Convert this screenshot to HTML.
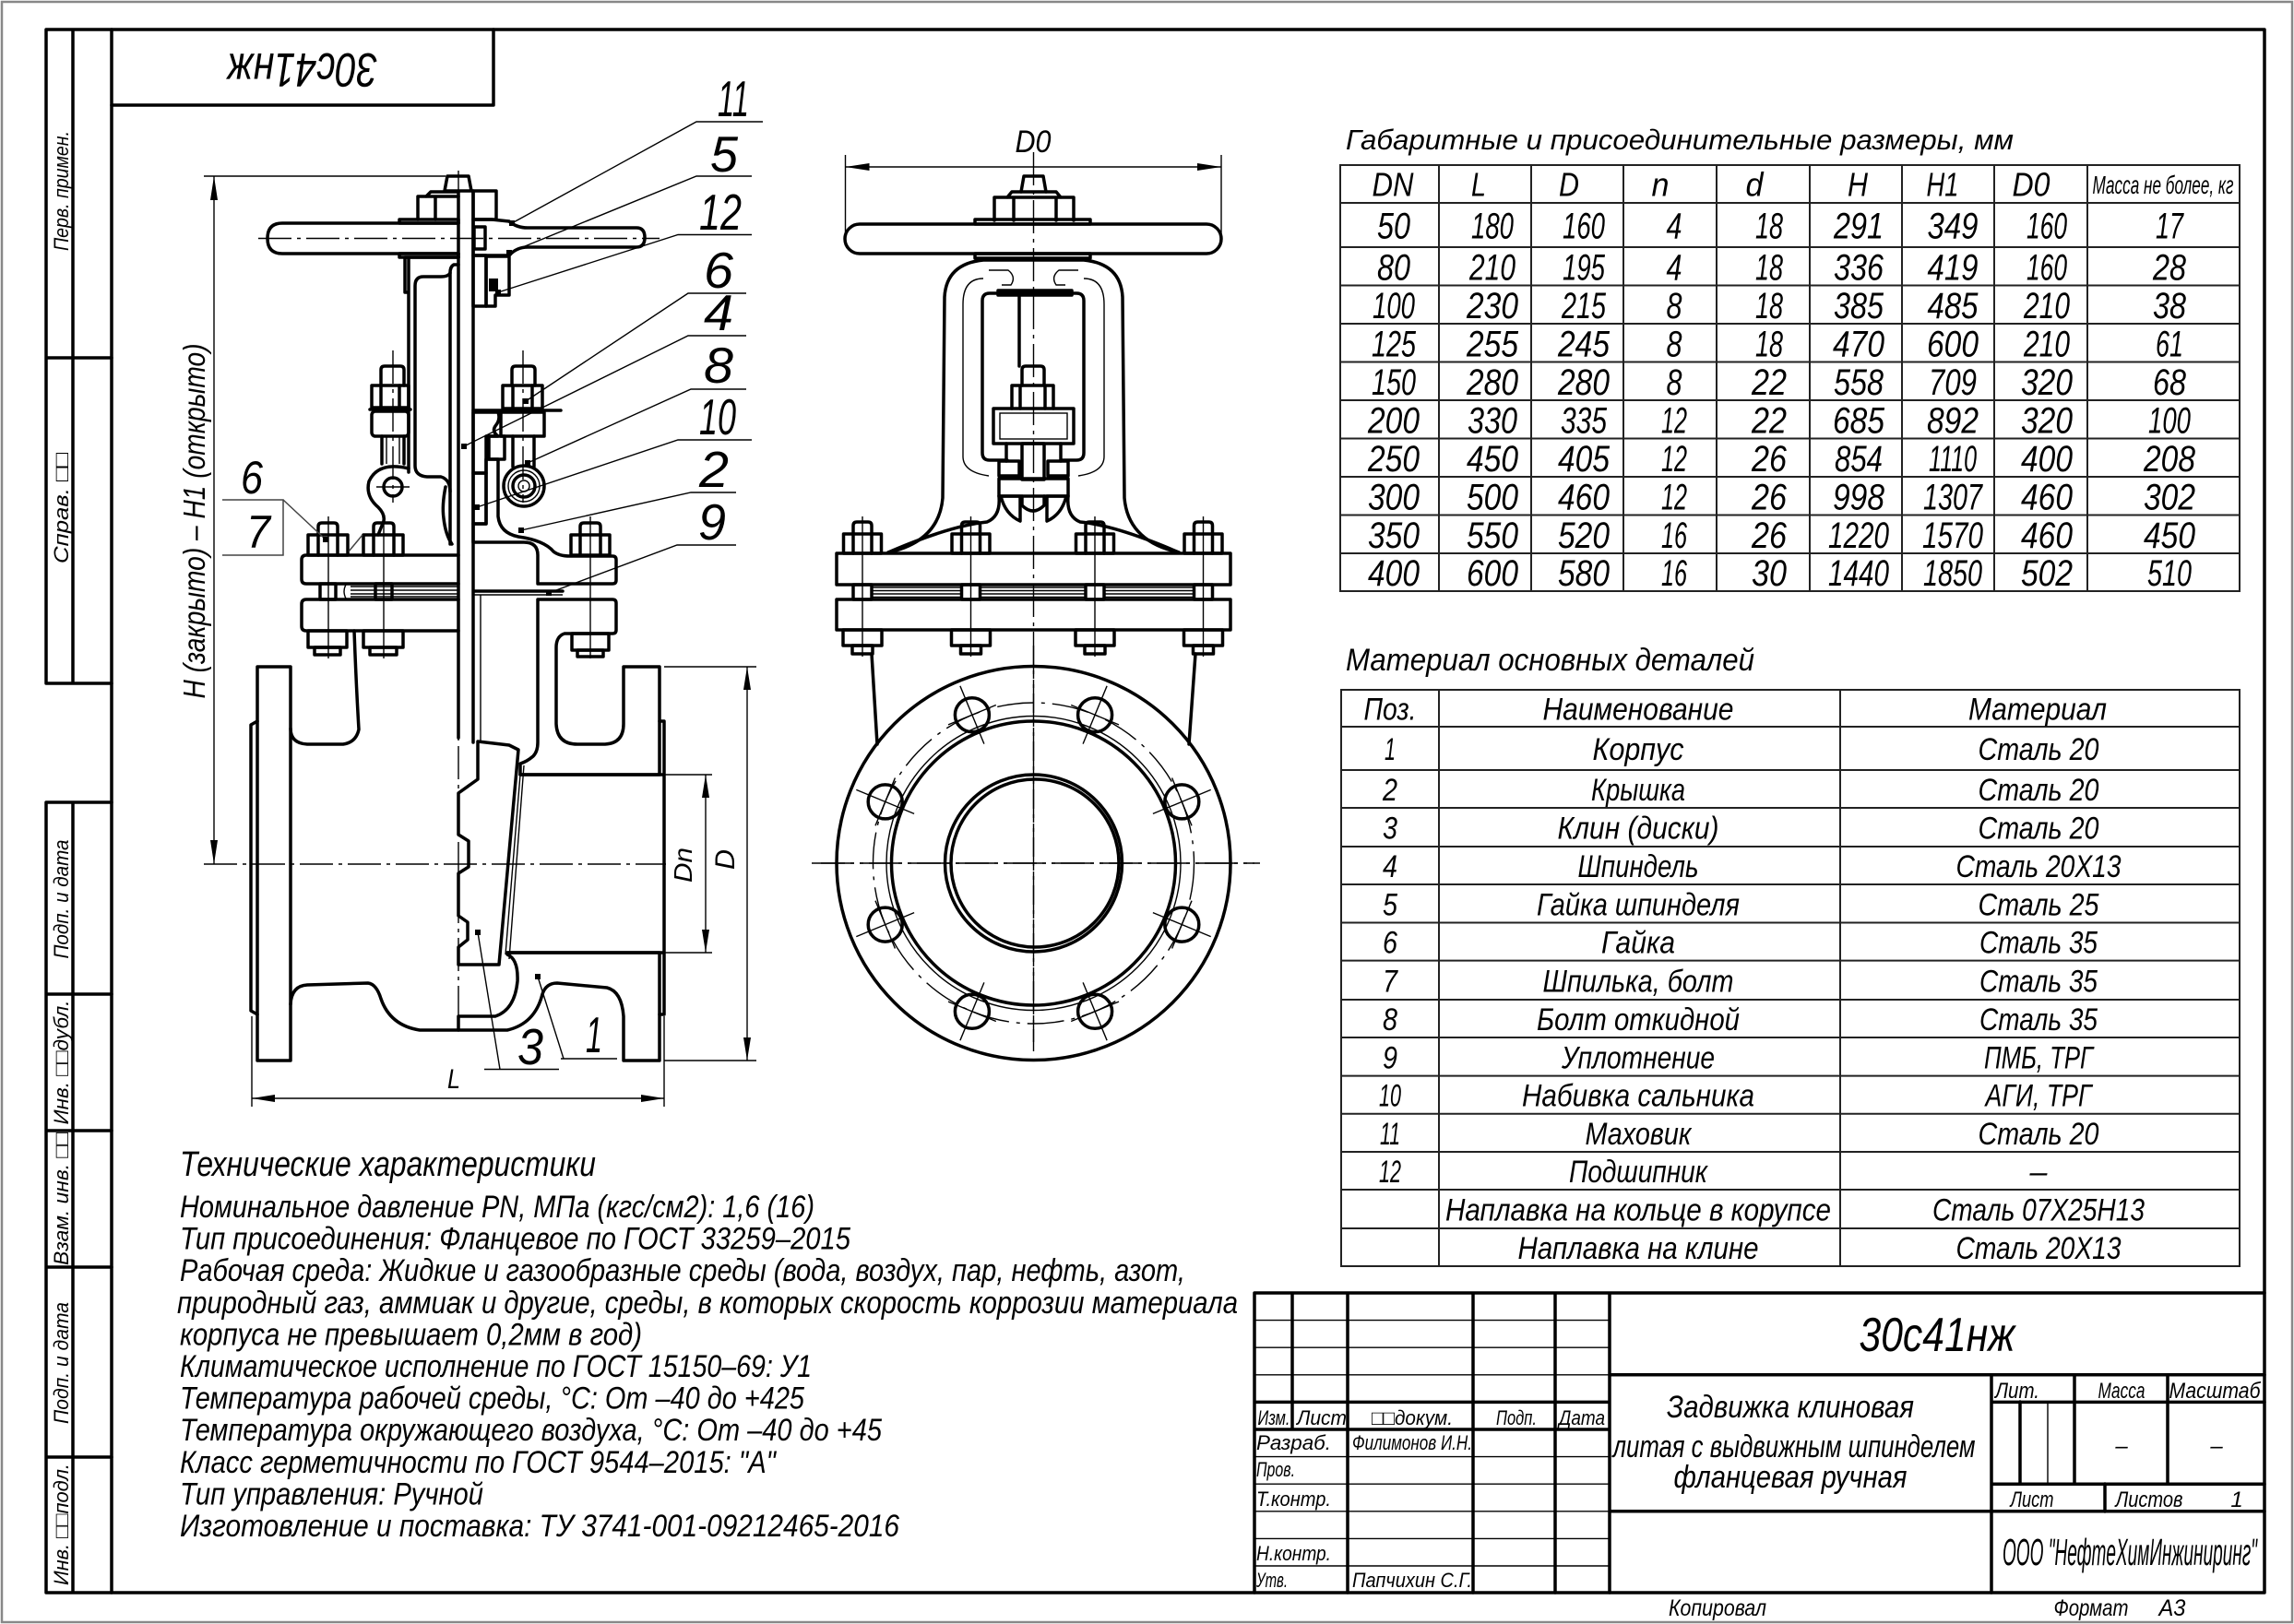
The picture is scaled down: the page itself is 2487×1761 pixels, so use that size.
<!DOCTYPE html>
<html><head><meta charset="utf-8">
<style>
html,body{margin:0;padding:0;background:#fff;width:2487px;height:1761px;overflow:hidden}
svg{display:block}
text{font-family:"Liberation Sans","DejaVu Sans",sans-serif;font-style:italic;fill:#000}
.k{fill:none;stroke:#000;stroke-width:3.5;stroke-linejoin:round;stroke-linecap:round}
.t{fill:none;stroke:#000;stroke-width:1.4}
.c{fill:none;stroke:#000;stroke-width:1.4;stroke-dasharray:36 6 4 6}
.g{fill:none;stroke:#444;stroke-width:1.5}
.tl{fill:none;stroke:#222;stroke-width:2}
</style></head><body>
<svg width="2487" height="1761" viewBox="0 0 2487 1761" xmlns="http://www.w3.org/2000/svg">
<defs>
<pattern id="hs" patternUnits="userSpaceOnUse" width="10" height="10" patternTransform="rotate(45)"><line x1="1" y1="0" x2="1" y2="10" stroke="#000" stroke-width="1.2"/></pattern>
<pattern id="hb" patternUnits="userSpaceOnUse" width="10" height="10" patternTransform="rotate(-45)"><line x1="1" y1="0" x2="1" y2="10" stroke="#000" stroke-width="1.2"/></pattern>
<pattern id="hx" patternUnits="userSpaceOnUse" width="6" height="6" patternTransform="rotate(45)"><path d="M1,0V6M0,1H6" stroke="#000" stroke-width="1"/></pattern>
</defs>

<!-- FRAME -->
<rect x="2" y="2" width="2483" height="1757" fill="none" stroke="#888" stroke-width="2.5"/>
<rect x="121" y="32" width="2334" height="1695" class="k" stroke-width="4"/>
<path class="k" d="M121,32 H50 V741 H121 M79,32 V741 M50,388 H121"/>
<path class="k" d="M121,870 H50 V1727 H121 M79,870 V1727 M50,1078 H121 M50,1226 H121 M50,1374 H121 M50,1580 H121"/>
<path class="k" d="M121,114 H535 V32"/>
<text font-size="52" text-anchor="middle" textLength="163" lengthAdjust="spacingAndGlyphs" transform="translate(328,77) rotate(180)" y="19">30с41нж</text>

<!-- strip labels -->
<g font-size="22" text-anchor="middle">
<text transform="translate(74,207) rotate(-90)" textLength="130" lengthAdjust="spacingAndGlyphs">Перв. примен.</text>
<text transform="translate(74,551) rotate(-90)" textLength="120" lengthAdjust="spacingAndGlyphs">Справ. □□</text>
<text transform="translate(74,975) rotate(-90)" textLength="129" lengthAdjust="spacingAndGlyphs">Подп. и дата</text>
<text transform="translate(74,1152) rotate(-90)" textLength="135" lengthAdjust="spacingAndGlyphs">Инв. □□дубл.</text>
<text transform="translate(74,1300) rotate(-90)" textLength="144" lengthAdjust="spacingAndGlyphs">Взам. инв. □□</text>
<text transform="translate(74,1478) rotate(-90)" textLength="132" lengthAdjust="spacingAndGlyphs">Подп. и дата</text>
<text transform="translate(74,1653) rotate(-90)" textLength="132" lengthAdjust="spacingAndGlyphs">Инв. □□подл.</text>
</g>

<!-- ================= LEFT VIEW ================= -->
<!-- H dimension -->
<path class="t" d="M221,191 H483 M232,191 V937"/>
<path d="M232,191 l-4,26 h8z M232,937 l-4,-26 h8z" fill="#000"/>
<text font-size="33" text-anchor="middle" textLength="385" lengthAdjust="spacingAndGlyphs" transform="translate(222,565) rotate(-90)">H (закрыто) – H1 (открыто)</text>

<!-- centerlines -->
<path class="c" d="M280,258.5 H715"/>
<path class="c" d="M497,185 V1118"/>
<path class="c" d="M221,937 H722"/>

<!-- handwheel left -->
<path class="k" d="M497,242 H306 Q290,242 290,258.5 Q290,275 306,275 H497"/>
<rect class="k" x="433" y="238" width="64" height="4"/>
<rect class="k" x="433" y="275" width="64" height="4"/>
<path class="k" d="M453,238 V213 H497 M472,213 V238 M462,213 L467,208 H497"/>
<path class="k" d="M482,207 L485,191 H508 L511,207 Z"/>
<path class="k" d="M497,207 V800 M513,207 V805"/>
<path class="t" d="M521,645 V805"/>

<!-- wheel section right -->
<path fill="url(#hs)" class="k" d="M513,207 H538 V238 H513 Z"/>
<path fill="url(#hs)" class="k" d="M513,238 H533 L552,240 Q560,247 572,247 H690 Q699,247 699,257.5 Q699,268 690,268 H572 Q560,268 552,277 H533 L513,277 Z"/>
<rect class="k" x="514" y="246" width="12" height="24" fill="#fff"/>
<path fill="url(#hb)" class="k" d="M513,277 H527 V332 H513 Z"/>
<path fill="url(#hb)" class="k" d="M527,278 H552 V320 H537 V332 H527 Z"/>
<rect x="530" y="302" width="10" height="14" fill="#000"/>

<!-- yoke left -->
<path class="k" d="M497,279 H439 V317 H443 M443,279 V512"/>
<path class="k" d="M497,287 H492 Q488,289 488,296 V590"/>
<path class="k" d="M488,296 Q486,300 478,300 H459 Q450,300 450,310 V505 Q450,516 463,517 H478 Q488,520 488,533"/>

<!-- gland bolt left -->
<path class="c" d="M426,380 V545"/>
<path class="k" d="M413,418 V401 Q413,397 417,397 H434 Q438,397 438,401 V418"/>
<rect class="k" x="403" y="418" width="40" height="24"/>
<path class="k" d="M413,418 V442 M433,418 V442 M401,444 H445"/>
<rect class="k" x="403" y="446" width="40" height="27" rx="4"/>
<path class="k" d="M414,473 V503 M438,473 V503"/>
<path class="t" d="M419,473 V503 M433,473 V503"/>
<!-- ear -->
<path class="k" d="M443,508 Q410,500 400,522 Q396,538 410,550 Q420,560 414,570 L410,580"/>
<circle class="k" cx="426" cy="528" r="10"/>
<path class="t" d="M408,528 H444"/>
<path class="k" d="M483,528 Q479,548 481,562 Q483,580 490,590"/>

<!-- eye bolt right -->
<path class="c" d="M567,380 V545"/>
<path class="k" d="M555,418 V401 Q555,397 559,397 H576 Q580,397 580,401 V418"/>
<rect class="k" x="545" y="418" width="43" height="25"/>
<path class="k" d="M556,418 V443 M577,418 V443 M513,445 H608"/>
<rect class="k" x="543" y="447" width="47" height="26"/>
<path class="k" d="M556,473 V506 M579,473 V506"/>
<circle class="k" cx="568" cy="527" r="22" fill="#fff"/>
<circle class="t" cx="568" cy="527" r="17"/>
<circle class="k" cx="568" cy="527" r="12"/>
<circle class="t" cx="568" cy="527" r="6"/>

<!-- gland/packing/bonnet section -->
<path fill="url(#hb)" class="k" d="M513,447 H540 Q543,455 537,462 Q533,468 540,473 H527 V513 H513 Z"/>
<rect class="k" x="530" y="473" width="17" height="25"/>
<rect fill="url(#hx)" class="k" x="513" y="513" width="14" height="55"/>
<path fill="url(#hs)" class="k" d="M527,498 H540 V560 Q542,578 562,582 Q590,586 600,598 Q606,603 618,603 H664 Q668,603 668,607 V629 Q668,633 664,633 H583 V602 Q583,588 568,588 H513 V568 H527 Z"/>

<!-- flanges left (view) -->
<path class="k" d="M497,602 H332 Q327,602 327,607 V628 Q327,633 332,633 H497"/>
<path class="k" d="M497,650 H332 Q327,650 327,655 V679 Q327,684 332,684 H497"/>
<path class="t" d="M380,636 H497 M380,640 H497 M380,644 H497 M380,647 H497 M375,634 Q371,641 375,649"/>
<path class="k" d="M514,641 H610"/>
<path class="t" d="M514,645 H610"/>
<rect class="k" x="347" y="633" width="17" height="17"/>
<rect class="k" x="407" y="633" width="18" height="17"/>
<!-- nuts -->
<g class="k">
<path d="M345,580 V571 Q345,567 349,567 H362 Q366,567 366,571 V580"/><rect x="334" y="580" width="43" height="22"/><path d="M345,580 V602 M366,580 V602"/>
<path d="M405,580 V571 Q405,567 409,567 H423 Q427,567 427,571 V580"/><rect x="394" y="580" width="43" height="22"/><path d="M405,580 V602 M427,580 V602"/>
<path d="M629,580 V571 Q629,567 633,567 H647 Q651,567 651,571 V580"/><rect x="619" y="580" width="42" height="22"/><path d="M629,580 V602 M651,580 V602"/>
<rect x="334" y="684" width="42" height="18"/><rect x="341" y="702" width="28" height="8"/>
<rect x="394" y="684" width="43" height="18"/><rect x="401" y="702" width="29" height="8"/>
<rect x="620" y="687" width="40" height="18"/><rect x="626" y="705" width="28" height="7"/>
</g>
<path class="t" d="M356,560 V714 M416,560 V714 M640,560 V714"/>

<!-- body left view -->
<path class="k" d="M384,684 Q386,740 389,791 Q386,805 372,807 H333 Q315,806 315,790"/>
<rect class="k" x="279" y="723" width="36" height="427"/>
<path class="k" d="M279,782 L272,786 V1096 L279,1100"/>
<path class="k" d="M315,1089 Q316,1069 333,1068 L399,1066 Q408,1067 413,1083 Q423,1112 455,1117 L497,1117"/>

<!-- body section right -->
<path fill="url(#hb)" class="k" d="M583,650 H664 Q668,650 668,654 V683 Q668,687 664,687 H612 Q603,690 603,702 V785 Q604,807 626,807 H656 Q676,806 676,785 V723 H715 V840 H564 V828 Q571,826 578,820 Q583,815 583,805 Z"/>
<path fill="url(#hb)" class="k" d="M550,1033 H715 V1150 H676 V1102 Q674,1075 658,1071 L604,1066 Q592,1066 588,1078 Q580,1110 550,1117 H497 V1102 H537 Q558,1095 561,1064 Q562,1040 550,1035 Z"/>
<path class="k" d="M715,782 H720 V1100 H715 M564,840 H720 M550,1033 H720"/>
<!-- wedge -->
<path fill="url(#hs)" class="k" d="M518,804 L552,808 L562,813 L541,1046 H497 V1027 L507,1019 V1000 L497,993 V947 L508,940 V912 L497,905 V860 L518,845 Z"/>
<path class="t" d="M564,840 L548,1035 M568,830 L552,1040"/>

<!-- dimensions left -->
<path class="t" d="M720,840 H772 M720,1033 H772 M765,840 V1033 M720,723 H820 M720,1150 H820 M810,723 V1150"/>
<path fill="#000" d="M765,840 l-4,25 h8z M765,1033 l-4,-25 h8z M810,723 l-4,25 h8z M810,1150 l-4,-25 h8z"/>
<text font-size="28" text-anchor="middle" textLength="38" lengthAdjust="spacingAndGlyphs" transform="translate(750,938) rotate(-90)">Dn</text>
<text font-size="30" text-anchor="middle" textLength="22" lengthAdjust="spacingAndGlyphs" transform="translate(796,932) rotate(-90)">D</text>
<path class="t" d="M273,1102 V1200 M720,1102 V1200 M273,1191 H720"/>
<path fill="#000" d="M273,1191 l25,-4 v8z M720,1191 l-25,-4 v8z"/>
<text x="492" y="1180" font-size="30" text-anchor="middle" textLength="14" lengthAdjust="spacingAndGlyphs">L</text>

<!-- leaders & labels -->
<path class="t" d="M827,132 H755 L555,242 M815,191 H755 L552,274 M815,254.5 H735 L540,317 M809,318 H746 L570,435 M809,364 H746 L503,484 M809,422 H749 L572,502 M815,477 H735 L517,550 M798,534 H749 L565,575 M798,591 H734 L595,643"/>
<path class="t" d="M525,1159.5 H606 M542,1159.5 L518,1011 M608,1148 H669 M611,1148 L583,1059"/>
<path class="g" d="M241,542 H307 V602 H241 M307,542 L353,585 M378,598 L393,580"/>
<g fill="#000">
<rect x="552" y="239" width="6" height="6"/><rect x="549" y="271" width="6" height="6"/><rect x="537" y="314" width="6" height="6"/>
<rect x="567" y="432" width="6" height="6"/><rect x="500" y="481" width="6" height="6"/><rect x="569" y="499" width="6" height="6"/>
<rect x="514" y="547" width="6" height="6"/><rect x="562" y="572" width="6" height="6"/><rect x="592" y="640" width="6" height="6"/>
<rect x="515" y="1008" width="6" height="6"/><rect x="580" y="1056" width="6" height="6"/><rect x="350" y="582" width="6" height="6"/>
</g>
<g font-size="55" text-anchor="middle">
<text x="795" y="126" textLength="34" lengthAdjust="spacingAndGlyphs">11</text>
<text x="785" y="186" textLength="30" lengthAdjust="spacingAndGlyphs">5</text>
<text x="781" y="249" textLength="46" lengthAdjust="spacingAndGlyphs">12</text>
<text x="779" y="312" textLength="32" lengthAdjust="spacingAndGlyphs">6</text>
<text x="779" y="358" textLength="32" lengthAdjust="spacingAndGlyphs">4</text>
<text x="779" y="415" textLength="32" lengthAdjust="spacingAndGlyphs">8</text>
<text x="778" y="471" textLength="40" lengthAdjust="spacingAndGlyphs">10</text>
<text x="774" y="528" textLength="32" lengthAdjust="spacingAndGlyphs">2</text>
<text x="772" y="585" textLength="30" lengthAdjust="spacingAndGlyphs">9</text>
<text x="575" y="1154" textLength="28" lengthAdjust="spacingAndGlyphs">3</text>
<text x="644" y="1141" textLength="18" lengthAdjust="spacingAndGlyphs">1</text>
</g>
<g font-size="50" text-anchor="middle">
<text x="273" y="535" textLength="24" lengthAdjust="spacingAndGlyphs">6</text>
<text x="280" y="594" textLength="26" lengthAdjust="spacingAndGlyphs">7</text>
</g>

<!-- ================= MIDDLE VIEW ================= -->
<path class="c" d="M1120.5,165 V1130 M880,936 H1366"/>
<path class="t" d="M916.5,168 V263 M1324,168 V263 M916.5,181 H1324"/>
<path fill="#000" d="M916.5,181 l26,-4 v8z M1324,181 l-26,-4 v8z"/>
<text x="1120" y="165" font-size="34" text-anchor="middle" textLength="39" lengthAdjust="spacingAndGlyphs">D0</text>
<path class="k" d="M1107,208 L1110,191 H1131 L1134,208"/>
<path class="k" d="M1078,239 V214 H1164 V239 M1099,214 V239 M1145,214 V239 M1092,214 L1097,208 H1145 L1150,214"/>
<rect class="k" x="1057" y="238" width="125" height="5"/>
<rect class="k" x="916" y="243" width="408" height="32" rx="16"/>
<rect class="k" x="1057" y="275" width="125" height="5"/>
<path class="k" d="M963,599 Q1018,587 1022,540 L1024,322 Q1026,286 1066,282 H1175 Q1215,286 1217,322 L1219,540 Q1223,587 1278,599"/>
<path class="t" d="M1066,302 Q1044,302 1044,330 V495 Q1044,512 1072,516 M1175,302 Q1197,302 1197,330 V495 Q1197,512 1169,516"/>
<path class="t" d="M1072,293 H1093 Q1102,300 1096,309 H1086 M1169,293 H1148 Q1139,300 1145,309 H1155"/>
<path class="k" d="M1092,499 H1073 Q1065,499 1065,491 V326 Q1065,318 1073,318 H1167 Q1175,318 1175,326 V491 Q1175,499 1167,499 H1150"/>
<rect class="k" x="1082" y="315" width="80" height="5"/>
<path class="k" d="M1105,320 V397"/>
<path class="k" d="M1108,418 V401 Q1108,397 1112,397 H1128 Q1132,397 1132,401 V418"/>
<path class="k" d="M1097,443 V418 H1142 V443 M1106,418 V443 M1133,418 V443"/>
<rect class="k" x="1077" y="443" width="87" height="38"/>
<rect class="t" x="1084" y="448" width="73" height="28"/>
<rect fill="url(#hb)" class="k" x="1108" y="481" width="24" height="39"/>
<rect fill="url(#hs)" class="k" x="1083" y="500" width="22" height="16"/>
<rect fill="url(#hs)" class="k" x="1136" y="500" width="22" height="16"/>
<path class="k" d="M1091,481 V500 M1150,481 V500"/>
<rect class="k" x="1083" y="519" width="75" height="19" fill="#fff"/>
<path class="k" d="M1083,538 Q1085,560 1070,566 Q1030,570 963,599 M1158,538 Q1156,560 1171,566 Q1211,570 1278,599"/>
<path fill="url(#hs)" class="k" d="M1085,538 Q1090,558 1106,565 L1106,538 Z M1156,538 Q1151,558 1135,565 L1135,538 Z"/>
<path class="k" d="M1108,538 V548 Q1120,560 1132,548 V538"/>
<rect class="k" x="907" y="600" width="427" height="34"/>
<rect class="k" x="907" y="650" width="427" height="33"/>
<path class="t" d="M946,637 H1042 M946,640.5 H1042 M946,644 H1042 M946,647.5 H1042 M1063,637 H1176 M1063,640.5 H1176 M1063,644 H1176 M1063,647.5 H1176 M1198,637 H1294 M1198,640.5 H1294 M1198,644 H1294 M1198,647.5 H1294"/>
<g class="k">
<rect x="925" y="634" width="20" height="16"/><rect x="1042.5" y="634" width="20" height="16"/><rect x="1177" y="634" width="20" height="16"/><rect x="1294.5" y="634" width="20" height="16"/>
<path d="M925,579 V570 Q925,566 929,566 H941 Q945,566 945,570 V579"/><rect x="914.5" y="579" width="41" height="21"/><path d="M925,579 V600 M945,579 V600"/>
<path d="M1042.5,579 V570 Q1042.5,566 1046.5,566 H1058.5 Q1062.5,566 1062.5,570 V579"/><rect x="1032" y="579" width="41" height="21"/><path d="M1042.5,579 V600 M1062.5,579 V600"/>
<path d="M1177,579 V570 Q1177,566 1181,566 H1193 Q1197,566 1197,570 V579"/><rect x="1166.5" y="579" width="41" height="21"/><path d="M1177,579 V600 M1197,579 V600"/>
<path d="M1294.5,579 V570 Q1294.5,566 1298.5,566 H1310.5 Q1314.5,566 1314.5,570 V579"/><rect x="1284" y="579" width="41" height="21"/><path d="M1294.5,579 V600 M1314.5,579 V600"/>
<rect x="914" y="683" width="42" height="17"/><rect x="924" y="700" width="22" height="9"/>
<rect x="1031.5" y="683" width="42" height="17"/><rect x="1041.5" y="700" width="22" height="9"/>
<rect x="1166" y="683" width="42" height="17"/><rect x="1176" y="700" width="22" height="9"/>
<rect x="1283.5" y="683" width="42" height="17"/><rect x="1293.5" y="700" width="22" height="9"/>
</g>
<path class="t" d="M935,560 V712 M1052.5,560 V712 M1187,560 V712 M1304.5,560 V712"/>
<path class="k" d="M945,709 L951,807 M1296,709 L1289,807"/>
<circle class="k" cx="1120.5" cy="936" r="213.5" fill="#fff"/>
<circle cx="1120.5" cy="936" r="174" fill="none" stroke="#000" stroke-width="1.4" stroke-dasharray="40 8 4 8"/>
<circle class="t" cx="1120.5" cy="936" r="159.5"/>
<circle class="k" cx="1120.5" cy="936" r="154"/>
<circle class="k" cx="1120.5" cy="936" r="96"/>
<circle class="k" cx="1122" cy="936" r="91"/>
<path class="c" d="M1120.5,700 V1140 M890,936 H1360"/>
<g class="k">
<circle cx="1053.9" cy="775.2" r="18.5"/><circle cx="1187.1" cy="775.2" r="18.5"/>
<circle cx="959.7" cy="869.4" r="18.5"/><circle cx="1281.3" cy="869.4" r="18.5"/>
<circle cx="959.7" cy="1002.6" r="18.5"/><circle cx="1281.3" cy="1002.6" r="18.5"/>
<circle cx="1053.9" cy="1096.8" r="18.5"/><circle cx="1187.1" cy="1096.8" r="18.5"/>
</g>
<path class="t" d="M1040.9,743.8 L1066.9,806.6 M1079.8,764.5 L1028,785.9 M1200.1,743.8 L1174.1,806.6 M1213,785.9 L1161.2,764.5 M928.3,856.4 L991.1,882.4 M970.4,843.5 L949,895.3 M1312.7,856.4 L1249.9,882.4 M1292,895.3 L1270.6,843.5 M928.3,1015.6 L991.1,989.6 M949,976.7 L970.4,1028.5 M1312.7,1015.6 L1249.9,989.6 M1270.6,1028.5 L1292,976.7 M1040.9,1128.2 L1066.9,1065.4 M1028,1086.1 L1079.8,1107.5 M1200.1,1128.2 L1174.1,1065.4 M1161.2,1107.5 L1213,1086.1"/>

<!-- ================= TABLE 1 ================= -->
<text x="1459" y="162" font-size="31" textLength="724" lengthAdjust="spacingAndGlyphs">Габаритные и присоединительные размеры, мм</text>
<path class="tl" d="M1453,179 H2428 V641 H1453 Z M1560,179 V641 M1660,179 V641 M1760,179 V641 M1861,179 V641 M1962,179 V641 M2062,179 V641 M2162,179 V641 M2263,179 V641 M1453,220 H2428 M1453,268 H2428 M1453,309.5 H2428 M1453,351 H2428 M1453,392.5 H2428 M1453,434 H2428 M1453,475.5 H2428 M1453,517 H2428 M1453,558.5 H2428 M1453,600 H2428"/>
<g font-size="36" text-anchor="middle">
<text x="1510" y="212.5" textLength="45" lengthAdjust="spacingAndGlyphs">DN</text>
<text x="1603" y="212.5" textLength="16" lengthAdjust="spacingAndGlyphs">L</text>
<text x="1701" y="212.5" textLength="22" lengthAdjust="spacingAndGlyphs">D</text>
<text x="1800" y="212.5" textLength="19" lengthAdjust="spacingAndGlyphs">n</text>
<text x="1902" y="212.5" textLength="19" lengthAdjust="spacingAndGlyphs">d</text>
<text x="2014" y="212.5" textLength="22" lengthAdjust="spacingAndGlyphs">H</text>
<text x="2106" y="212.5" textLength="35" lengthAdjust="spacingAndGlyphs">H1</text>
<text x="2202" y="212.5" textLength="41" lengthAdjust="spacingAndGlyphs">D0</text>
<text x="2345" y="210" font-size="28" textLength="153" lengthAdjust="spacingAndGlyphs">Масса не более, кг</text>
</g>
<g font-size="40" text-anchor="middle">
<text x="1511" y="258.5" textLength="36" lengthAdjust="spacingAndGlyphs">50</text><text x="1618" y="258.5" textLength="46" lengthAdjust="spacingAndGlyphs">180</text><text x="1717" y="258.5" textLength="46" lengthAdjust="spacingAndGlyphs">160</text><text x="1815" y="258.5" textLength="17" lengthAdjust="spacingAndGlyphs">4</text><text x="1918" y="258.5" textLength="30" lengthAdjust="spacingAndGlyphs">18</text><text x="2015" y="258.5" textLength="54" lengthAdjust="spacingAndGlyphs">291</text><text x="2117" y="258.5" textLength="55" lengthAdjust="spacingAndGlyphs">349</text><text x="2219" y="258.5" textLength="44" lengthAdjust="spacingAndGlyphs">160</text><text x="2352" y="258.5" textLength="30" lengthAdjust="spacingAndGlyphs">17</text>
<text x="1511" y="303.3" textLength="36" lengthAdjust="spacingAndGlyphs">80</text><text x="1618" y="303.3" textLength="50" lengthAdjust="spacingAndGlyphs">210</text><text x="1717" y="303.3" textLength="46" lengthAdjust="spacingAndGlyphs">195</text><text x="1815" y="303.3" textLength="17" lengthAdjust="spacingAndGlyphs">4</text><text x="1918" y="303.3" textLength="30" lengthAdjust="spacingAndGlyphs">18</text><text x="2015" y="303.3" textLength="54" lengthAdjust="spacingAndGlyphs">336</text><text x="2117" y="303.3" textLength="55" lengthAdjust="spacingAndGlyphs">419</text><text x="2219" y="303.3" textLength="44" lengthAdjust="spacingAndGlyphs">160</text><text x="2352" y="303.3" textLength="36" lengthAdjust="spacingAndGlyphs">28</text>
<text x="1511" y="344.8" textLength="46" lengthAdjust="spacingAndGlyphs">100</text><text x="1618" y="344.8" textLength="56" lengthAdjust="spacingAndGlyphs">230</text><text x="1717" y="344.8" textLength="48" lengthAdjust="spacingAndGlyphs">215</text><text x="1815" y="344.8" textLength="17" lengthAdjust="spacingAndGlyphs">8</text><text x="1918" y="344.8" textLength="30" lengthAdjust="spacingAndGlyphs">18</text><text x="2015" y="344.8" textLength="54" lengthAdjust="spacingAndGlyphs">385</text><text x="2117" y="344.8" textLength="55" lengthAdjust="spacingAndGlyphs">485</text><text x="2219" y="344.8" textLength="50" lengthAdjust="spacingAndGlyphs">210</text><text x="2352" y="344.8" textLength="36" lengthAdjust="spacingAndGlyphs">38</text>
<text x="1511" y="386.3" textLength="48" lengthAdjust="spacingAndGlyphs">125</text><text x="1618" y="386.3" textLength="56" lengthAdjust="spacingAndGlyphs">255</text><text x="1717" y="386.3" textLength="56" lengthAdjust="spacingAndGlyphs">245</text><text x="1815" y="386.3" textLength="17" lengthAdjust="spacingAndGlyphs">8</text><text x="1918" y="386.3" textLength="30" lengthAdjust="spacingAndGlyphs">18</text><text x="2015" y="386.3" textLength="56" lengthAdjust="spacingAndGlyphs">470</text><text x="2117" y="386.3" textLength="56" lengthAdjust="spacingAndGlyphs">600</text><text x="2219" y="386.3" textLength="50" lengthAdjust="spacingAndGlyphs">210</text><text x="2352" y="386.3" textLength="30" lengthAdjust="spacingAndGlyphs">61</text>
<text x="1511" y="427.8" textLength="48" lengthAdjust="spacingAndGlyphs">150</text><text x="1618" y="427.8" textLength="56" lengthAdjust="spacingAndGlyphs">280</text><text x="1717" y="427.8" textLength="56" lengthAdjust="spacingAndGlyphs">280</text><text x="1815" y="427.8" textLength="17" lengthAdjust="spacingAndGlyphs">8</text><text x="1918" y="427.8" textLength="38" lengthAdjust="spacingAndGlyphs">22</text><text x="2015" y="427.8" textLength="54" lengthAdjust="spacingAndGlyphs">558</text><text x="2117" y="427.8" textLength="52" lengthAdjust="spacingAndGlyphs">709</text><text x="2219" y="427.8" textLength="56" lengthAdjust="spacingAndGlyphs">320</text><text x="2352" y="427.8" textLength="36" lengthAdjust="spacingAndGlyphs">68</text>
<text x="1511" y="469.3" textLength="56" lengthAdjust="spacingAndGlyphs">200</text><text x="1618" y="469.3" textLength="54" lengthAdjust="spacingAndGlyphs">330</text><text x="1717" y="469.3" textLength="50" lengthAdjust="spacingAndGlyphs">335</text><text x="1815" y="469.3" textLength="28" lengthAdjust="spacingAndGlyphs">12</text><text x="1918" y="469.3" textLength="38" lengthAdjust="spacingAndGlyphs">22</text><text x="2015" y="469.3" textLength="56" lengthAdjust="spacingAndGlyphs">685</text><text x="2117" y="469.3" textLength="56" lengthAdjust="spacingAndGlyphs">892</text><text x="2219" y="469.3" textLength="56" lengthAdjust="spacingAndGlyphs">320</text><text x="2352" y="469.3" textLength="46" lengthAdjust="spacingAndGlyphs">100</text>
<text x="1511" y="510.8" textLength="56" lengthAdjust="spacingAndGlyphs">250</text><text x="1618" y="510.8" textLength="56" lengthAdjust="spacingAndGlyphs">450</text><text x="1717" y="510.8" textLength="56" lengthAdjust="spacingAndGlyphs">405</text><text x="1815" y="510.8" textLength="28" lengthAdjust="spacingAndGlyphs">12</text><text x="1918" y="510.8" textLength="38" lengthAdjust="spacingAndGlyphs">26</text><text x="2015" y="510.8" textLength="52" lengthAdjust="spacingAndGlyphs">854</text><text x="2117" y="510.8" textLength="52" lengthAdjust="spacingAndGlyphs">1110</text><text x="2219" y="510.8" textLength="56" lengthAdjust="spacingAndGlyphs">400</text><text x="2352" y="510.8" textLength="56" lengthAdjust="spacingAndGlyphs">208</text>
<text x="1511" y="552.3" textLength="56" lengthAdjust="spacingAndGlyphs">300</text><text x="1618" y="552.3" textLength="56" lengthAdjust="spacingAndGlyphs">500</text><text x="1717" y="552.3" textLength="56" lengthAdjust="spacingAndGlyphs">460</text><text x="1815" y="552.3" textLength="28" lengthAdjust="spacingAndGlyphs">12</text><text x="1918" y="552.3" textLength="38" lengthAdjust="spacingAndGlyphs">26</text><text x="2015" y="552.3" textLength="56" lengthAdjust="spacingAndGlyphs">998</text><text x="2117" y="552.3" textLength="64" lengthAdjust="spacingAndGlyphs">1307</text><text x="2219" y="552.3" textLength="56" lengthAdjust="spacingAndGlyphs">460</text><text x="2352" y="552.3" textLength="56" lengthAdjust="spacingAndGlyphs">302</text>
<text x="1511" y="593.8" textLength="56" lengthAdjust="spacingAndGlyphs">350</text><text x="1618" y="593.8" textLength="56" lengthAdjust="spacingAndGlyphs">550</text><text x="1717" y="593.8" textLength="56" lengthAdjust="spacingAndGlyphs">520</text><text x="1815" y="593.8" textLength="28" lengthAdjust="spacingAndGlyphs">16</text><text x="1918" y="593.8" textLength="38" lengthAdjust="spacingAndGlyphs">26</text><text x="2015" y="593.8" textLength="66" lengthAdjust="spacingAndGlyphs">1220</text><text x="2117" y="593.8" textLength="66" lengthAdjust="spacingAndGlyphs">1570</text><text x="2219" y="593.8" textLength="56" lengthAdjust="spacingAndGlyphs">460</text><text x="2352" y="593.8" textLength="56" lengthAdjust="spacingAndGlyphs">450</text>
<text x="1511" y="635" textLength="56" lengthAdjust="spacingAndGlyphs">400</text><text x="1618" y="635" textLength="56" lengthAdjust="spacingAndGlyphs">600</text><text x="1717" y="635" textLength="56" lengthAdjust="spacingAndGlyphs">580</text><text x="1815" y="635" textLength="28" lengthAdjust="spacingAndGlyphs">16</text><text x="1918" y="635" textLength="38" lengthAdjust="spacingAndGlyphs">30</text><text x="2015" y="635" textLength="66" lengthAdjust="spacingAndGlyphs">1440</text><text x="2117" y="635" textLength="64" lengthAdjust="spacingAndGlyphs">1850</text><text x="2219" y="635" textLength="56" lengthAdjust="spacingAndGlyphs">502</text><text x="2352" y="635" textLength="48" lengthAdjust="spacingAndGlyphs">510</text>
</g>

<!-- ================= TABLE 2 ================= -->
<text x="1459" y="727" font-size="34" textLength="443" lengthAdjust="spacingAndGlyphs">Материал основных деталей</text>
<path class="tl" d="M1454,748 H2428 V1373 H1454 Z M1560,748 V1373 M1995,748 V1373 M1454,788 H2428 M1454,835 H2428 M1454,876 H2428 M1454,918 H2428 M1454,959 H2428 M1454,1000.5 H2428 M1454,1041.6 H2428 M1454,1084 H2428 M1454,1125 H2428 M1454,1166.6 H2428 M1454,1207.7 H2428 M1454,1249 H2428 M1454,1290 H2428 M1454,1332 H2428"/>
<g font-size="34" text-anchor="middle">
<text x="1507" y="780.5" textLength="57" lengthAdjust="spacingAndGlyphs">Поз.</text>
<text x="1776" y="780.5" textLength="207" lengthAdjust="spacingAndGlyphs">Наименование</text>
<text x="2209" y="780.5" textLength="150" lengthAdjust="spacingAndGlyphs">Материал</text>

<text x="1507" y="824" textLength="12" lengthAdjust="spacingAndGlyphs">1</text><text x="1776" y="824" textLength="99" lengthAdjust="spacingAndGlyphs">Корпус</text><text x="2210" y="824" textLength="131" lengthAdjust="spacingAndGlyphs">Сталь 20</text>
<text x="1507" y="868" textLength="16" lengthAdjust="spacingAndGlyphs">2</text><text x="1776" y="868" textLength="102" lengthAdjust="spacingAndGlyphs">Крышка</text><text x="2210" y="868" textLength="131" lengthAdjust="spacingAndGlyphs">Сталь 20</text>
<text x="1507" y="909.5" textLength="16" lengthAdjust="spacingAndGlyphs">3</text><text x="1776" y="909.5" textLength="175" lengthAdjust="spacingAndGlyphs">Клин (диски)</text><text x="2210" y="909.5" textLength="131" lengthAdjust="spacingAndGlyphs">Сталь 20</text>
<text x="1507" y="951" textLength="16" lengthAdjust="spacingAndGlyphs">4</text><text x="1776" y="951" textLength="131" lengthAdjust="spacingAndGlyphs">Шпиндель</text><text x="2210" y="951" textLength="179" lengthAdjust="spacingAndGlyphs">Сталь 20Х13</text>
<text x="1507" y="992.3" textLength="16" lengthAdjust="spacingAndGlyphs">5</text><text x="1776" y="992.3" textLength="220" lengthAdjust="spacingAndGlyphs">Гайка шпинделя</text><text x="2210" y="992.3" textLength="131" lengthAdjust="spacingAndGlyphs">Сталь 25</text>
<text x="1507" y="1033.5" textLength="16" lengthAdjust="spacingAndGlyphs">6</text><text x="1776" y="1033.5" textLength="80" lengthAdjust="spacingAndGlyphs">Гайка</text><text x="2210" y="1033.5" textLength="128" lengthAdjust="spacingAndGlyphs">Сталь 35</text>
<text x="1507" y="1075.3" textLength="16" lengthAdjust="spacingAndGlyphs">7</text><text x="1776" y="1075.3" textLength="207" lengthAdjust="spacingAndGlyphs">Шпилька, болт</text><text x="2210" y="1075.3" textLength="128" lengthAdjust="spacingAndGlyphs">Сталь 35</text>
<text x="1507" y="1117" textLength="16" lengthAdjust="spacingAndGlyphs">8</text><text x="1776" y="1117" textLength="220" lengthAdjust="spacingAndGlyphs">Болт откидной</text><text x="2210" y="1117" textLength="128" lengthAdjust="spacingAndGlyphs">Сталь 35</text>
<text x="1507" y="1158.3" textLength="16" lengthAdjust="spacingAndGlyphs">9</text><text x="1776" y="1158.3" textLength="166" lengthAdjust="spacingAndGlyphs">Уплотнение</text><text x="2210" y="1158.3" textLength="118" lengthAdjust="spacingAndGlyphs">ПМБ, ТРГ</text>
<text x="1507" y="1199.7" textLength="24" lengthAdjust="spacingAndGlyphs">10</text><text x="1776" y="1199.7" textLength="252" lengthAdjust="spacingAndGlyphs">Набивка сальника</text><text x="2210" y="1199.7" textLength="115" lengthAdjust="spacingAndGlyphs">АГИ, ТРГ</text>
<text x="1507" y="1240.9" textLength="22" lengthAdjust="spacingAndGlyphs">11</text><text x="1776" y="1240.9" textLength="115" lengthAdjust="spacingAndGlyphs">Маховик</text><text x="2210" y="1240.9" textLength="131" lengthAdjust="spacingAndGlyphs">Сталь 20</text>
<text x="1507" y="1282" textLength="24" lengthAdjust="spacingAndGlyphs">12</text><text x="1776" y="1282" textLength="150" lengthAdjust="spacingAndGlyphs">Подшипник</text><text x="2210" y="1282">–</text>
<text x="1776" y="1323.5" textLength="418" lengthAdjust="spacingAndGlyphs">Наплавка на кольце в корупсе</text><text x="2210" y="1323.5" textLength="230" lengthAdjust="spacingAndGlyphs">Сталь 07Х25Н13</text>
<text x="1776" y="1365" textLength="261" lengthAdjust="spacingAndGlyphs">Наплавка на клине</text><text x="2210" y="1365" textLength="179" lengthAdjust="spacingAndGlyphs">Сталь 20Х13</text>
</g>

<!-- ================= TECH TEXT ================= -->
<text x="195" y="1275" font-size="38" textLength="451" lengthAdjust="spacingAndGlyphs">Технические характеристики</text>
<g font-size="34">
<text x="195" y="1320" textLength="688" lengthAdjust="spacingAndGlyphs">Номинальное давление PN, МПа (кгс/см2): 1,6 (16)</text>
<text x="195" y="1354.6" textLength="727" lengthAdjust="spacingAndGlyphs">Тип присоединения: Фланцевое по ГОСТ 33259–2015</text>
<text x="195" y="1389.2" textLength="1090" lengthAdjust="spacingAndGlyphs">Рабочая среда: Жидкие и газообразные среды (вода, воздух, пар, нефть, азот,</text>
<text x="192" y="1423.8" textLength="1150" lengthAdjust="spacingAndGlyphs">природный газ, аммиак и другие, среды, в которых скорость коррозии материала</text>
<text x="195" y="1458.4" textLength="501" lengthAdjust="spacingAndGlyphs">корпуса не превышает 0,2мм в год)</text>
<text x="195" y="1493" textLength="685" lengthAdjust="spacingAndGlyphs">Климатическое исполнение по ГОСТ 15150–69: У1</text>
<text x="195" y="1527.6" textLength="677" lengthAdjust="spacingAndGlyphs">Температура рабочей среды, °С: От –40 до +425</text>
<text x="195" y="1562.2" textLength="761" lengthAdjust="spacingAndGlyphs">Температура окружающего воздуха, °С: От –40 до +45</text>
<text x="195" y="1596.8" textLength="646" lengthAdjust="spacingAndGlyphs">Класс герметичности по ГОСТ 9544–2015: "А"</text>
<text x="195" y="1631.4" textLength="329" lengthAdjust="spacingAndGlyphs">Тип управления: Ручной</text>
<text x="195" y="1666" textLength="780" lengthAdjust="spacingAndGlyphs">Изготовление и поставка: ТУ 3741-001-09212465-2016</text>
</g>

<!-- ================= TITLE BLOCK ================= -->
<path class="t" stroke="#444" stroke-width="2" d="M1360,1431.6 H1745 M1360,1461.2 H1745 M1360,1490.8 H1745 M1360,1579.6 H1745 M1360,1609.2 H1745 M1360,1638.8 H1745 M1360,1668.4 H1745 M1360,1698 H1745 M2220,1520 V1609"/>
<path class="k" d="M1360,1402 H2455 M1360,1402 V1727 M1360,1520.4 H1745 M1360,1550 H1745 M1401,1402 V1550 M1461,1402 V1727 M1597,1402 V1727 M1686,1402 V1727 M1745,1402 V1727 M1745,1490.8 H2455 M1745,1638.8 H2455 M2159,1490.8 V1727 M2159,1520.4 H2455 M2159,1609.2 H2455 M2190,1520 V1609 M2249,1490.8 V1609 M2350,1490.8 V1609 M2282,1609 V1639"/>
<text x="2100" y="1465" font-size="52" text-anchor="middle" textLength="169" lengthAdjust="spacingAndGlyphs">30с41нж</text>
<g font-size="34" text-anchor="middle">
<text x="1941" y="1537" textLength="268" lengthAdjust="spacingAndGlyphs">Задвижка клиновая</text>
<text x="1945" y="1580" textLength="393" lengthAdjust="spacingAndGlyphs">литая с выдвижным шпинделем</text>
<text x="1941" y="1613" textLength="253" lengthAdjust="spacingAndGlyphs">фланцевая ручная</text>
</g>
<g font-size="24" text-anchor="middle">
<text x="2187" y="1516" textLength="48" lengthAdjust="spacingAndGlyphs">Лит.</text>
<text x="2300" y="1516" textLength="51" lengthAdjust="spacingAndGlyphs">Масса</text>
<text x="2401" y="1516" textLength="99" lengthAdjust="spacingAndGlyphs">Масштаб</text>
<text x="2300" y="1576">–</text>
<text x="2403" y="1576">–</text>
<text x="2203" y="1634" textLength="47" lengthAdjust="spacingAndGlyphs">Лист</text>
<text x="2330" y="1634" textLength="73" lengthAdjust="spacingAndGlyphs">Листов</text>
<text x="2425" y="1634">1</text>
</g>
<text x="2309" y="1697" font-size="41" text-anchor="middle" textLength="276" lengthAdjust="spacingAndGlyphs">ООО "НефтеХимИнжиниринг"</text>
<text x="1862" y="1752" font-size="25" text-anchor="middle" textLength="106" lengthAdjust="spacingAndGlyphs">Копировал</text>
<text x="2267" y="1752" font-size="25" text-anchor="middle" textLength="81" lengthAdjust="spacingAndGlyphs">Формат</text>
<text x="2355" y="1752" font-size="25" text-anchor="middle" textLength="29" lengthAdjust="spacingAndGlyphs">А3</text>
<g font-size="22">
<text x="1381" y="1545" text-anchor="middle" textLength="35" lengthAdjust="spacingAndGlyphs">Изм.</text>
<text x="1433" y="1545" text-anchor="middle" textLength="54" lengthAdjust="spacingAndGlyphs">Лист</text>
<text x="1531" y="1545" text-anchor="middle" textLength="88" lengthAdjust="spacingAndGlyphs">□□докум.</text>
<text x="1644" y="1545" text-anchor="middle" textLength="44" lengthAdjust="spacingAndGlyphs">Подп.</text>
<text x="1715" y="1545" text-anchor="middle" textLength="50" lengthAdjust="spacingAndGlyphs">Дата</text>
<text x="1362" y="1572" textLength="81" lengthAdjust="spacingAndGlyphs">Разраб.</text>
<text x="1466" y="1572" textLength="130" lengthAdjust="spacingAndGlyphs">Филимонов И.Н.</text>
<text x="1362" y="1601" textLength="42" lengthAdjust="spacingAndGlyphs">Пров.</text>
<text x="1362" y="1633" textLength="81" lengthAdjust="spacingAndGlyphs">Т.контр.</text>
<text x="1362" y="1692" textLength="81" lengthAdjust="spacingAndGlyphs">Н.контр.</text>
<text x="1362" y="1721" textLength="34" lengthAdjust="spacingAndGlyphs">Утв.</text>
<text x="1466" y="1721" textLength="130" lengthAdjust="spacingAndGlyphs">Папчихин С.Г.</text>
</g>
</svg>
</body></html>
